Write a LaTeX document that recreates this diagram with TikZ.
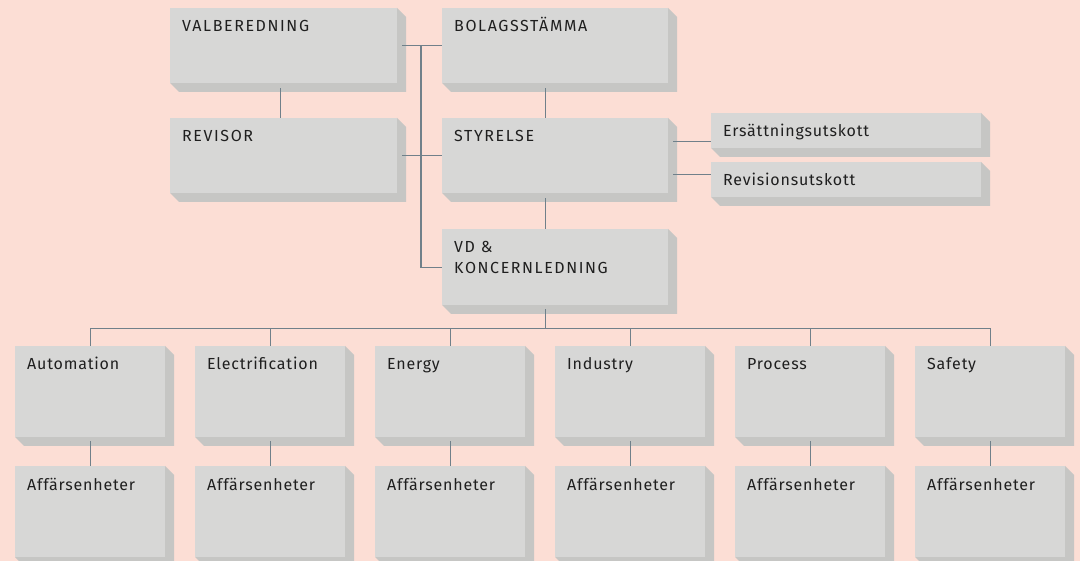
\documentclass[tikz,border=0pt]{standalone}
\usepackage{fontspec}
\setmainfont{Fira Sans}[LetterSpace=5]
\usepackage{xcolor}
\definecolor{bgpink}{RGB}{252,222,213}
\definecolor{boxface}{RGB}{215,215,214}
\definecolor{boxshade}{RGB}{198,198,196}
\definecolor{linecol}{RGB}{112,128,138}
\usepackage{tikz}
\usetikzlibrary{calc}
\tikzset{
  face/.style={fill=boxface,inner sep=0pt,anchor=north west},
  label/.style={inner sep=0pt,anchor=base west,text=black!88,
    font=\fontsize{16}{21}\selectfont},
  conn/.style={draw=linecol,line width=1.2pt}
}
\newcommand{\caps}[1]{{\addfontfeatures{LetterSpace=10}#1}}
% #1 name, #2 x, #3 y, #4 width, #5 height, #6 text
\newcommand{\orgbox}[6]{%
\fill[boxshade] (#2+#4,#3) -- ++(9,9) -- ++(0,#5) -- ++(-#4,0) -- ++(-9,-9) -- cycle;
\node[face,minimum width=#4pt,minimum height=#5pt] (#1) at (#2,#3) {};
\node[label] (#1-t) at ([xshift=12pt,yshift=-24pt]#1.north west) {#6};}

\begin{document}
\begin{tikzpicture}[x=1pt,y=-1pt]
\fill[bgpink] (0,0) rectangle (1080,561);
\useasboundingbox (0,0) rectangle (1080,561);
% ---- ledning ----
\orgbox{val}{170}{8}{227}{75}{\caps{VALBEREDNING}}
\orgbox{bol}{442}{8}{226}{75}{\caps{BOLAGSSTÄMMA}}
\orgbox{rev}{170}{118}{227}{75}{\caps{REVISOR}}
\orgbox{sty}{442}{118}{226}{75}{\caps{STYRELSE}}
\orgbox{vd}{442}{229}{226}{76}{\caps{\begin{tabular}[t]{@{}l@{}}VD \&\\KONCERNLEDNING\end{tabular}}}
\orgbox{ers}{711}{113}{270}{35}{Ersättningsutskott}
\orgbox{rvu}{711}{162}{270}{35}{Revisionsutskott}
% ---- affärsområden ----
\foreach \n/\t [count=\i from 0] in {aut/Automation,ele/Electrification,ene/Energy,ind/Industry,pro/Process,saf/Safety}{
  \orgbox{\n}{15+180*\i}{346}{150}{91}{\t}
  \orgbox{\n-ae}{15+180*\i}{466}{150}{91}{Affärsenheter}
  \draw[conn] ([yshift=-4pt]\n.south) -- (\n-ae.north);
}
% ---- linjer ----
\draw[conn] ([xshift=5pt]val.east) -- (bol.west);
\draw[conn] ([xshift=5pt]rev.east) -- (sty.west);
\draw[conn] ($(val.east)!0.53!(bol.west)$) |- (vd.west);
\draw[conn] ([xshift=-3.5pt,yshift=-5pt]val.south) -- ([xshift=-3.5pt]rev.north);
\draw[conn] ([xshift=-10pt,yshift=-5pt]bol.south) -- ([xshift=-10pt]sty.north);
\draw[conn] ([xshift=-10pt,yshift=-5pt]sty.south) -- ([xshift=-10pt]vd.north);
\draw[conn] ([xshift=5pt,yshift=14.5pt]sty.east) -- ([yshift=14.5pt]sty.east -| ers.west);
\draw[conn] ([xshift=5pt,yshift=-18.5pt]sty.east) -- ([yshift=-18.5pt]sty.east -| rvu.west);
\coordinate (bus) at ([xshift=-10pt,yshift=-23pt]vd.south);
\draw[conn] ([xshift=-10pt,yshift=-4pt]vd.south) -- (bus);
\draw[conn] (aut.north) |- (bus) -| (saf.north);
\foreach \n in {ele,ene,ind,pro}{ \draw[conn] (\n.north) -- (\n.north |- bus);}
\end{tikzpicture}
\end{document}
